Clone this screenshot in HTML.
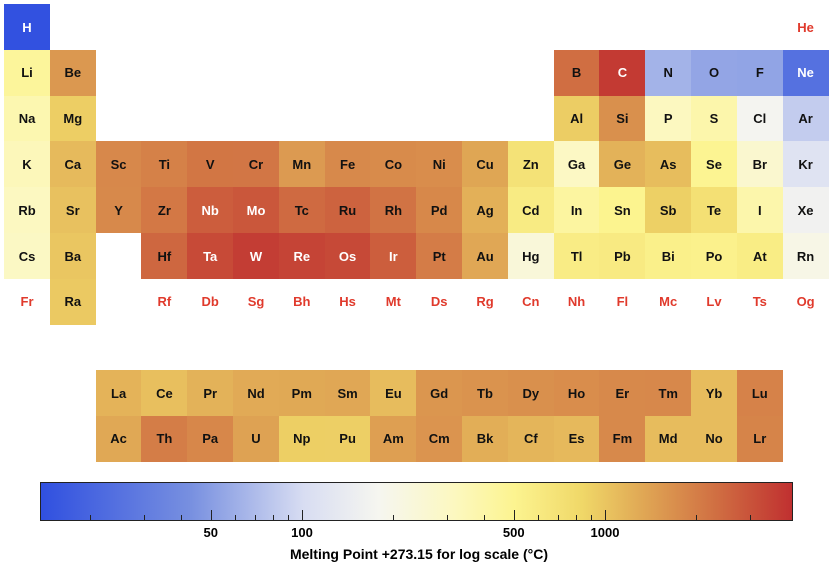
<!DOCTYPE html>
<html><head><meta charset="utf-8"><style>
body{margin:0;width:832px;height:570px;background:#fff;position:relative;overflow:hidden;font-family:"Liberation Sans",Arial,sans-serif;}
.c{position:absolute;width:46px;height:46px;display:flex;align-items:center;justify-content:center;font-weight:bold;font-size:13px;}
#bar{position:absolute;left:40px;top:482px;width:751px;height:37px;border:1px solid #222;}
.t{position:absolute;width:1px;background:#222;}
.l{position:absolute;top:525px;font-size:13px;font-weight:bold;transform:translateX(-50%);}
</style></head><body>
<div id="bar"></div>
<div style="position:absolute;left:0;width:832px;top:546px;text-align:center;font-size:14px;font-weight:bold;padding-left:3px">Melting Point +273.15 for log scale (°C)</div>
<script>
const stops=[[0,[48,80,224]],[0.2,[120,144,224]],[0.35,[216,221,242]],[0.45,[246,246,240]],[0.55,[252,248,192]],[0.63,[252,244,144]],[0.72,[240,216,104]],[0.8,[224,168,85]],[0.9,[208,110,66]],[1,[192,48,48]]];
function col(t){t=Math.max(0,Math.min(1,t));for(let i=1;i<stops.length;i++){if(t<=stops[i][0]){const a=stops[i-1],b=stops[i],f=(t-a[0])/(b[0]-a[0]);return 'rgb('+a[1].map((v,k)=>Math.round(v+(b[1][k]-v)*f)).join(',')+')';}}return 'rgb(192,48,48)';}
const L0=1.135,L1=3.62;
function tv(k){return (Math.log10(k)-L0)/(L1-L0);}
document.getElementById('bar').style.background='linear-gradient(to right,'+stops.map(s=>col(s[0])+' '+(s[0]*100)+'%').join(',')+')';
const rows=[
[[1,'H',14.01],[18,'He',null]],
[[1,'Li',453.7],[2,'Be',1560],[13,'B',2349],[14,'C',3800],[15,'N',63.15],[16,'O',54.36],[17,'F',53.53],[18,'Ne',24.56]],
[[1,'Na',370.9],[2,'Mg',923],[13,'Al',933.5],[14,'Si',1687],[15,'P',317.3],[16,'S',388.4],[17,'Cl',171.6],[18,'Ar',83.8]],
'K 336.5 Ca 1115 Sc 1814 Ti 1941 V 2183 Cr 2180 Mn 1519 Fe 1811 Co 1768 Ni 1728 Cu 1357.8 Zn 692.7 Ga 302.9 Ge 1211 As 1090 Se 494 Br 265.8 Kr 115.8',
'Rb 312.5 Sr 1050 Y 1799 Zr 2128 Nb 2750 Mo 2896 Tc 2430 Ru 2607 Rh 2237 Pd 1828 Ag 1234.9 Cd 594.2 In 429.7 Sn 505.1 Sb 903.8 Te 722.7 I 386.9 Xe 161.4',
'Cs 301.6 Ba 1000 - 0 Hf 2506 Ta 3290 W 3695 Re 3459 Os 3306 Ir 2719 Pt 2041.4 Au 1337.3 Hg 234.3 Tl 577 Pb 600.6 Bi 544.4 Po 527 At 575 Rn 202',
'Fr x Ra 973 - 0 Rf x Db x Sg x Bh x Hs x Mt x Ds x Rg x Cn x Nh x Fl x Mc x Lv x Ts x Og x'
];
const PX=45.8,X0=4;
function cell(x,y,s,k){const d=document.createElement('div');d.className='c';d.style.left=x+'px';d.style.top=y+'px';d.textContent=s;
if(k==null){d.style.color='#e03a2c';}else{const t=tv(k);d.style.background=col(t);d.style.color=(t<0.12||t>0.92)?'#fff':'#111';}document.body.appendChild(d);}
rows.forEach((r,ri)=>{const y=4+ri*PX;
if(typeof r==='string'){const p=r.split(' ');let c=1;for(let i=0;i<p.length;i+=2){if(p[i]!=='-'){cell(X0+(c-1)*PX,y,p[i],p[i+1]==='x'?null:+p[i+1]);}c++;}}
else r.forEach(e=>cell(X0+(e[0]-1)*PX,y,e[1],e[2]));});
const lan='La 1193 Ce 1068 Pr 1208 Nd 1297 Pm 1315 Sm 1345 Eu 1099 Gd 1585 Tb 1629 Dy 1680 Ho 1734 Er 1802 Tm 1818 Yb 1097 Lu 1925'.split(' ');
const act='Ac 1323 Th 2023 Pa 1841 U 1405 Np 917 Pu 912.5 Am 1449 Cm 1613 Bk 1259 Cf 1173 Es 1133 Fm 1800 Md 1100 No 1100 Lr 1900'.split(' ');
for(let i=0;i<15;i++){cell(X0+(i+2)*PX,370,lan[2*i],+lan[2*i+1]);cell(X0+(i+2)*PX,415.5,act[2*i],+act[2*i+1]);}
function bx(v){return 302+303*Math.log10(v/100);}
[20,30,40,50,60,70,80,90,100,200,300,400,500,600,700,800,900,1000,2000,3000].forEach(v=>{const maj=[50,100,500,1000].includes(v);const d=document.createElement('div');d.className='t';d.style.left=Math.round(bx(v))+'px';const h=maj?10:5;d.style.top=(520-h)+'px';d.style.height=h+'px';document.body.appendChild(d);
if(maj){const l=document.createElement('div');l.className='l';l.style.left=bx(v)+'px';l.textContent=v;document.body.appendChild(l);}});
</script>
</body></html>
